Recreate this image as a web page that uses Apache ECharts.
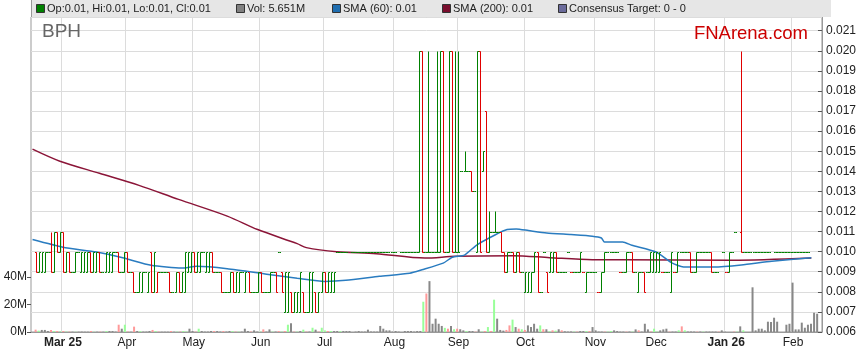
<!DOCTYPE html>
<html><head><meta charset="utf-8">
<script src="https://cdn.jsdelivr.net/npm/echarts@6/dist/echarts.min.js"></script>
<style>html,body{margin:0;padding:0;background:#fff}#c{width:859px;height:363px}</style>
</head><body><div id="c"></div>
<script>
// ---------- DATA ----------
const startDate = '2025-02-17';
const dayCount = 260;
const monthTickLabels = ['Mar 25','Apr','May','Jun','Jul','Aug','Sep','Oct','Nov','Dec','Jan 26','Feb'];
const boldTickLabels = ['Mar 25','Jan 26'];
const priceTicks = {min: 0.006, max: 0.02168, step: 0.001};
const volumeTicks = {min: 0, max: 40, step: 20};

// daily [open, high, low, close]; null = no trade
const ohlc = [
// Feb 2025
null,[.010,.010,.009,.009],[.009,.010,.009,.010],[.009,.010,.009,.010],[.009,.010,.009,.010],
[.010,.010,.010,.010],[.010,.011,.009,.009],[.009,.011,.009,.011],[.011,.011,.010,.010],[.010,.011,.010,.011],
// Mar
[.011,.011,.009,.009],[.009,.010,.009,.010],[.010,.010,.009,.009],[.009,.009,.009,.009],[.009,.010,.009,.010],
[.010,.010,.010,.010],[.009,.010,.009,.010],[.009,.010,.009,.010],[.009,.010,.009,.010],[.010,.010,.009,.009],
[.009,.010,.009,.010],[.009,.010,.009,.010],[.010,.010,.009,.009],[.009,.009,.009,.009],[.009,.010,.009,.010],
[.009,.010,.009,.010],[.009,.010,.009,.010],[.010,.010,.010,.010],[.010,.010,.009,.009],[.009,.009,.009,.009],
[.009,.010,.009,.010],
// Apr
[.010,.010,.009,.009],[.009,.009,.009,.009],[.009,.009,.008,.008],[.008,.008,.008,.008],[.008,.009,.008,.009],
[.008,.009,.008,.009],[.009,.009,.009,.009],[.008,.009,.008,.009],[.010,.010,.008,.008],[.008,.010,.008,.010],
[.008,.009,.008,.009],[.009,.009,.009,.009],[.009,.009,.009,.009],[.009,.009,.009,.009],[.009,.009,.008,.008],
[.008,.008,.008,.008],[.008,.009,.008,.009],[.009,.009,.008,.008],[.008,.009,.008,.009],[.008,.010,.008,.010],
[.009,.010,.009,.010],[.009,.010,.009,.010],
// May
[.010,.010,.009,.009],[.009,.010,.009,.010],[.009,.010,.009,.010],[.010,.010,.010,.010],[.009,.010,.009,.010],
[.009,.010,.009,.010],[.010,.010,.009,.009],[.009,.009,.009,.009],[.009,.009,.009,.009],[.009,.009,.008,.008],
[.008,.008,.008,.008],[.008,.008,.008,.008],[.008,.009,.008,.009],[.009,.009,.008,.008],[.008,.009,.008,.009],
[.008,.009,.008,.009],[.009,.009,.009,.009],[.008,.009,.008,.009],[.009,.009,.008,.008],[.008,.008,.008,.008],
[.008,.008,.008,.008],[.008,.009,.008,.009],
// Jun
[.009,.009,.008,.008],[.008,.008,.008,.008],[.008,.008,.008,.008],[.008,.009,.008,.009],[.009,.009,.009,.009],
[.009,.009,.008,.008],[.010,.010,.010,.010],[.009,.009,.008,.008],[.007,.009,.007,.009],[.007,.009,.007,.009],
[.008,.008,.007,.007],[.007,.008,.007,.008],[.007,.008,.007,.008],[.007,.009,.007,.009],[.008,.008,.007,.007],
[.007,.007,.007,.007],[.007,.009,.007,.009],[.007,.009,.007,.009],[.008,.008,.007,.007],[.007,.008,.007,.008],
[.008,.009,.008,.009],
// Jul
[.009,.009,.008,.008],[.008,.009,.008,.009],[.008,.009,.008,.009],[.008,.009,.008,.009],[.010,.010,.010,.010],
[.010,.010,.010,.010],[.010,.010,.010,.010],[.010,.010,.010,.010],null,[.010,.010,.010,.010],
[.010,.010,.010,.010],[.010,.010,.010,.010],[.010,.010,.010,.010],[.010,.010,.010,.010],[.010,.010,.010,.010],
[.010,.010,.010,.010],[.010,.010,.010,.010],[.010,.010,.010,.010],[.010,.010,.010,.010],[.010,.010,.010,.010],
[.010,.010,.010,.010],[.010,.010,.010,.010],[.010,.010,.010,.010],
// Aug
[.010,.010,.010,.010],null,[.010,.010,.010,.010],[.010,.010,.010,.010],[.010,.010,.010,.010],
[.010,.010,.010,.010],[.010,.010,.010,.010],[.010,.010,.010,.010],[.010,.020,.010,.020],[.020,.020,.010,.010],
[.010,.010,.010,.010],[.010,.020,.010,.010],[.010,.010,.010,.010],[.010,.010,.010,.010],[.010,.020,.010,.010],
[.010,.020,.010,.020],[.020,.020,.010,.010],[.010,.010,.010,.010],[.010,.020,.010,.020],[.020,.020,.010,.010],
// Sep
[.010,.020,.010,.010],[.010,.020,.010,.010],[.014,.014,.014,.014],[.014,.015,.014,.014],[.014,.014,.014,.014],
[.014,.014,.013,.013],[.013,.013,.013,.013],[.010,.020,.010,.020],[.020,.020,.010,.010],[.014,.015,.014,.015],
[.017,.017,.010,.010],[.010,.012,.010,.011],[.011,.011,.011,.011],[.011,.012,.011,.011],[.011,.011,.011,.011],
[.011,.011,.010,.010],[.010,.010,.009,.009],[.009,.010,.009,.010],[.010,.010,.010,.010],[.010,.010,.009,.009],
[.009,.010,.009,.010],[.010,.010,.009,.009],
// Oct
[.009,.009,.009,.009],[.008,.009,.008,.009],[.008,.009,.008,.009],[.008,.009,.008,.009],[.009,.010,.009,.010],
[.010,.010,.008,.008],[.008,.008,.008,.008],[.010,.010,.010,.010],[.009,.009,.008,.008],[.009,.010,.009,.010],
[.009,.010,.009,.010],[.010,.010,.009,.009],[.009,.009,.009,.009],[.009,.009,.009,.009],[.009,.009,.009,.009],
[.010,.010,.010,.010],[.009,.009,.009,.009],[.009,.009,.009,.009],[.009,.009,.009,.009],[.009,.010,.009,.010],
[.009,.009,.009,.009],[.008,.009,.008,.009],[.009,.009,.009,.009],
// Nov
[.009,.009,.009,.009],[.009,.009,.009,.009],[.008,.008,.008,.008],[.008,.009,.008,.009],[.009,.010,.009,.010],
[.010,.010,.010,.010],[.010,.010,.010,.010],[.010,.010,.010,.010],[.010,.010,.010,.010],[.009,.009,.009,.009],
[.009,.009,.009,.009],[.009,.010,.009,.010],[.010,.010,.010,.010],[.010,.010,.009,.009],[.009,.009,.009,.009],
[.008,.009,.008,.009],[.009,.009,.009,.009],[.009,.009,.008,.008],[.009,.009,.009,.009],[.009,.010,.009,.010],
// Dec
[.009,.010,.009,.010],[.009,.010,.009,.010],[.009,.010,.009,.010],[.009,.009,.009,.009],[.009,.009,.009,.009],
[.009,.009,.009,.009],[.008,.010,.008,.010],[.009,.009,.009,.009],[.009,.010,.009,.010],[.010,.010,.010,.010],
[.010,.010,.010,.010],[.010,.010,.010,.010],[.010,.010,.009,.009],[.009,.009,.009,.009],[.009,.010,.009,.010],
[.010,.010,.010,.010],[.010,.010,.010,.010],[.010,.010,.010,.010],[.010,.010,.010,.010],[.010,.010,.009,.009],
[.009,.009,.009,.009],[.009,.009,.009,.009],null,
// Jan 2026
[.010,.010,.010,.010],[.009,.009,.009,.009],[.009,.010,.009,.010],[.010,.010,.010,.010],[.011,.011,.011,.011],
null,[.011,.020,.010,.010],[.010,.010,.010,.010],[.010,.010,.010,.010],[.010,.010,.010,.010],
[.010,.010,.010,.010],[.010,.010,.010,.010],[.010,.010,.010,.010],[.010,.010,.010,.010],[.010,.010,.010,.010],
[.010,.010,.010,.010],null,[.010,.010,.010,.010],[.010,.010,.010,.010],[.010,.010,.010,.010],
[.010,.010,.010,.010],[.010,.010,.010,.010],
// Feb 2026
[.010,.010,.010,.010],[.010,.010,.010,.010],[.010,.010,.010,.010],[.010,.010,.010,.010],[.010,.010,.010,.010],
[.010,.010,.010,.010],[.010,.010,.010,.010],null,null,null
];

// daily volume, millions
const volume = [
null,1.7,1.0,1.5,1.5,0.7,1.5,0.7,0.7,0.5,
0.7,0.3,0.3,0.2,0.2,0.2,0.3,0.2,0.2,0.7,0.2,0.2,0.3,0.2,0.7,0.7,0.7,0.3,5.3,2.4,5.3,
0.3,0.2,3.9,0.7,0.7,0.3,0.3,0.7,1.5,0.7,0.3,0.2,0.2,0.2,0.7,0.2,0.3,0.3,0.7,0.3,2.4,0.7,
0.3,2.4,0.7,0.3,0.3,0.7,0.7,0.7,0.3,0.7,0.3,0.7,0.7,0.3,0.3,0.3,2.4,0.7,0.3,1.2,0.3,0.3,
1.9,0.3,1.9,0.3,0.3,0.7,0.3,0.7,5.3,6.3,0.3,0.3,0.7,1.7,0.3,0.3,3.1,1.7,0.3,3.1,1.2,
0.7,0.7,0.7,0.7,0.7,0.7,0.7,0.7,null,0.3,0.7,0.3,0.3,1.7,0.3,0.3,0.3,4.4,2.4,1.2,1.2,0.3,0.7,
0.3,null,0.7,0.7,0.7,0.3,0.7,0.7,22,28,37,6,9.7,6,4.4,3,2.4,4.4,2,2.4,2,
1.2,0.7,0.7,0.7,0.3,2,0.3,0.7,3.6,0.7,23.5,9.7,1.5,1,1.5,4.8,9,3.6,2.4,2,1.5,4.8,
3.6,6,2.4,4.8,2,2,0.5,1.2,1,2,1.2,0.5,0.3,0.3,0.3,0.3,0.7,0.7,0.7,0.7,3.6,1.2,0.3,
0.3,0.3,0.3,0.7,1.2,0.7,0.3,0.3,0.3,0.3,0.3,1.9,1.2,0.3,6,1.9,0.3,2.4,0.3,1.2,
1.9,2.4,0.3,0.3,0.3,1.2,4.1,1.2,0.3,0.3,0.3,0.3,0.3,0.3,0.3,0.3,0.3,0.3,0.3,1.2,0.3,0.3,null,
0.3,0.3,4.1,1.2,0.3,null,32.5,1.2,2.4,2.4,1.2,7.5,7.3,10.4,7.5,5.3,null,5.3,6,35.9,1.9,1.9,
6.8,3.1,5.3,6,14,13.3,5.651,null,null,null
];

// moving averages, [day index, value] read at points along the lines
const sma60 = [[0,.01060],[10,.01022],[21,.00998],[30,.00968],[39,.00932],[49,.00918],[54,.00927],[64,.00915],
[77,.00888],[87,.00868],[96,.00852],[103,.00857],[114,.00877],[124,.00893],[128,.0091],[135,.00943],[138,.00972],
[142,.00983],[146,.01033],[152,.01083],[156,.0111],[159,.01113],[163,.01105],[169,.01093],[177,.01085],[184,.01077],
[187,.01068],[188,.01048],[194,.01048],[197,.01032],[205,.00998],[210,.00945],[214,.00924],[224,.00924],[233,.00934],
[243,.00952],[256,.00969]];
const sma200 = [[0,.0151],[9,.0145],[22,.0139],[35,.0133],[48,.0126],[64,.01177],[74,.0111],[87,.0104],[90,.0102],
[100,.0100],[113,.0099],[129,.00968],[139,.00977],[158,.0098],[170,.0097],[184,.0096],[194,.0096],[230,.00957],[256,.00968]];

const legendItems = [
  {text:'Op:0.01, Hi:0.01, Lo:0.01, Cl:0.01', color:'#008000'},
  {text:'Vol: 5.651M', color:'#808080'},
  {text:'SMA (60): 0.01', color:'#1f6eb0'},
  {text:'SMA (200): 0.01', color:'#7a0e2e'},
  {text:'Consensus Target: 0 - 0', color:'#6b6b9b'}
];

// ---------- BUILD ----------
const cats = [];
{
  const d = new Date(startDate + 'T00:00:00Z');
  while (cats.length < dayCount) {
    const wd = d.getUTCDay();
    if (wd !== 0 && wd !== 6) cats.push(d.toISOString().slice(0,10));
    d.setUTCDate(d.getUTCDate() + 1);
  }
}
const labelAt = {};
{
  let k = 0;
  for (let i = 1; i < cats.length; i++) {
    if (cats[i].slice(0,7) !== cats[i-1].slice(0,7) && k < monthTickLabels.length) labelAt[i] = monthTickLabels[k++];
  }
}
const UP = '#008000', DOWN = '#e00000';
const ohlcData = [], volData = [];
{
  let prev = null;
  for (let i = 0; i < cats.length; i++) {
    const r = ohlc[i];
    if (!r) { volData.push(null); continue; }
    const ref = prev === null ? r[0] : prev;
    const up = r[3] >= ref ? 1 : 0;
    ohlcData.push([i, r[0], r[1], r[2], r[3], up]);
    let vc = '#888888';
    if (r[3] > ref) vc = '#99ff99'; else if (r[3] < ref) vc = '#ff9a9a';
    volData.push(volume[i] == null ? null : {value: volume[i], itemStyle: {color: vc}});
    prev = r[3];
  }
}

const FONT = '"Liberation Sans", Arial, sans-serif';
const chart = echarts.init(document.getElementById('c'), null, {renderer: 'canvas'});

const graphic = [
  {type:'rect', shape:{x:31, y:0, width:800, height:17}, style:{fill:'#e6e6e6'}, z:10},
  {type:'line', shape:{x1:31.5, y1:0, x2:31.5, y2:17}, style:{stroke:'#999', lineWidth:1}, z:11},
  {type:'text', x:42, y:41, style:{text:'BPH', font:'19px ' + FONT, fill:'#666', verticalAlign:'bottom'}, z:10},
  {type:'text', x:808, y:43, style:{text:'FNArena.com', font:'18.5px ' + FONT, fill:'#cc0000', align:'right', verticalAlign:'bottom'}, z:10}
];
const legendX = [36, 236, 332, 442, 558];
legendItems.forEach((it, k) => {
  graphic.push({type:'rect', shape:{x:legendX[k]+0.5, y:4.5, width:8, height:8}, style:{fill:it.color, stroke:'#333', lineWidth:1}, z:12});
  graphic.push({type:'text', x:legendX[k]+11, y:9, style:{text:it.text, font:'11px ' + FONT, fill:'#222', verticalAlign:'middle'}, z:12});
});

chart.setOption({
  animation: false,
  backgroundColor: '#fff',
  textStyle: {fontFamily: FONT},
  graphic: graphic,
  grid: [
    {left:31, right:28, top:17, bottom:31, show:true, borderColor:'#999', borderWidth:1, backgroundColor:'#fff'},
    {left:31, right:28, top:277, bottom:31, show:false}
  ],
  xAxis: [
    {type:'category', data:cats, gridIndex:0, boundaryGap:true,
     axisLine:{show:true, lineStyle:{color:'#999'}}, axisTick:{show:false},
     splitLine:{show:true, interval:(i)=>labelAt[i]!==undefined, lineStyle:{color:'#dcdcdc', width:1}},
     axisLabel:{interval:(i)=>labelAt[i]!==undefined, color:'#222', fontSize:12, margin:5,
       formatter:(v, i)=>{ const t = labelAt[i] || ''; return boldTickLabels.includes(t) ? '{b|' + t + '}' : t; },
       rich:{b:{fontWeight:'bold', fontSize:12, color:'#222'}}}},
    {type:'category', data:cats, gridIndex:1, boundaryGap:true, show:false}
  ],
  yAxis: [
    {type:'value', gridIndex:0, position:'right', min:priceTicks.min, max:priceTicks.max, interval:priceTicks.step,
     axisLine:{show:true, lineStyle:{color:'#999'}},
     axisTick:{show:true, inside:true, length:4, lineStyle:{color:'#555'}},
     splitLine:{show:true, lineStyle:{color:'#dcdcdc'}},
     axisLabel:{showMaxLabel:false, color:'#222', fontSize:12, margin:4, formatter:(v)=>v.toFixed(3)}},
    {type:'value', gridIndex:1, position:'left', min:volumeTicks.min, max:volumeTicks.max, interval:volumeTicks.step,
     axisLine:{show:false}, splitLine:{show:false},
     axisTick:{show:true, length:4, lineStyle:{color:'#555'}},
     axisLabel:{color:'#222', fontSize:12, margin:4, formatter:(v)=>v + 'M'}}
  ],
  series: [
    {type:'bar', xAxisIndex:1, yAxisIndex:1, data:volData, barWidth:2, z:1},
    {type:'line', name:'SMA200', data:sma200, showSymbol:false, smooth:0.3, z:3,
     lineStyle:{color:'#8b1538', width:1.5}},
    {type:'line', name:'SMA60', data:sma60, showSymbol:false, smooth:0.2, z:3,
     lineStyle:{color:'#2a7cc0', width:1.5}},
    {type:'custom', name:'OHLC', data:ohlcData, z:4, encode:{x:0, y:[1,2,3,4]},
     renderItem:(params, api)=>{
       const i = api.value(0);
       const pO = api.coord([i, api.value(1)]);
       const pH = api.coord([i, api.value(2)]);
       const pL = api.coord([i, api.value(3)]);
       const pC = api.coord([i, api.value(4)]);
       const half = api.size([1, 0])[0] / 2;
       const col = api.value(5) ? UP : DOWN;
       const x = Math.round(pO[0]) + 0.5;
       const yo = Math.round(pO[1]) + 0.5, yc = Math.round(pC[1]) + 0.5;
       const st = {stroke: col, lineWidth: 1};
       return {type:'group', children:[
         {type:'line', shape:{x1:x, y1:Math.round(pH[1])+0.5, x2:x, y2:Math.round(pL[1])+0.5}, style:st},
         {type:'line', shape:{x1:x - half, y1:yo, x2:x, y2:yo}, style:st},
         {type:'line', shape:{x1:x, y1:yc, x2:x + half, y2:yc}, style:st}
       ]};
     }}
  ]
});
</script>
</body></html>
